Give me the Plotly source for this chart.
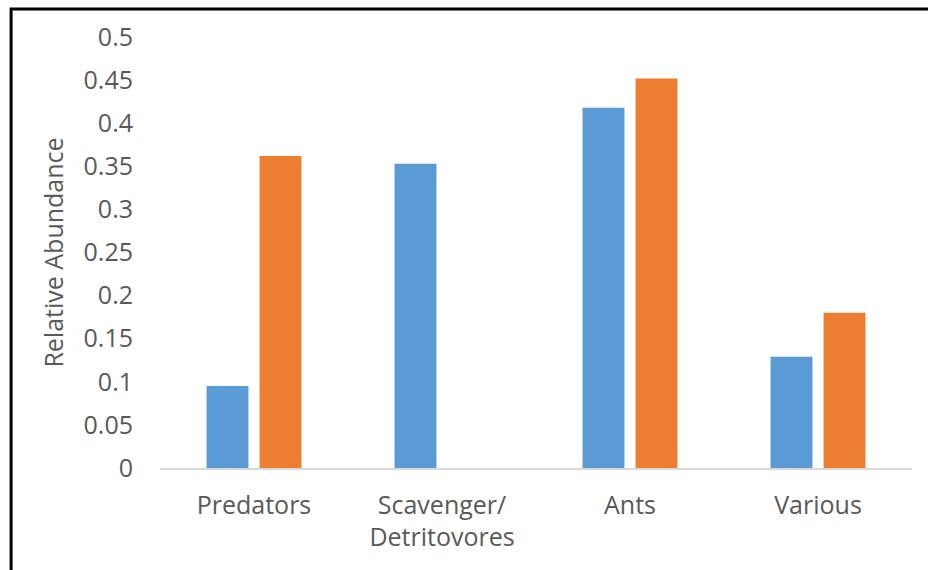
import plotly.graph_objects as go

# Relative abundance of feeding guilds in the two samples
categories = ["Predators", "Scavenger/<br>Detritovores", "Ants", "Various"]
series_a = [0.095, 0.353, 0.418, 0.129]
series_b = [0.362, 0.0, 0.452, 0.180]
y_ticks = [0, 0.05, 0.1, 0.15, 0.2, 0.25, 0.3, 0.35, 0.4, 0.45, 0.5]
y_tick_text = ["0", "0.05", "0.1", "0.15", "0.2", "0.25", "0.3", "0.35", "0.4", "0.45", "0.5"]

BLUE = "#5B9BD5"
ORANGE = "#ED7D31"
TEXT = "#595959"
FONT = "Open Sans"

fig = go.Figure()
fig.add_trace(go.Bar(x=categories, y=series_a, marker=dict(color=BLUE, line=dict(width=0))))
fig.add_trace(go.Bar(x=categories, y=series_b, marker=dict(color=ORANGE, line=dict(width=0))))

fig.update_layout(
    width=928,
    height=570,
    margin=dict(l=160, r=16, t=37, b=102),
    paper_bgcolor="white",
    plot_bgcolor="white",
    barmode="group",
    bargap=0.436,
    bargroupgap=0.21,
    showlegend=False,
    font=dict(family=FONT, size=25, color=TEXT),
    xaxis=dict(
        showline=True,
        linecolor="#D9D9D9",
        linewidth=1.5,
        showgrid=False,
        ticks="",
        tickfont=dict(family=FONT, size=25, color=TEXT),
        ticklabelstandoff=14,
    ),
    yaxis=dict(
        range=[0, 0.5],
        tickvals=y_ticks,
        ticktext=y_tick_text,
        showgrid=False,
        zeroline=False,
        showline=False,
        ticks="",
        ticklabelstandoff=26,
        tickfont=dict(family=FONT, size=25, color=TEXT),
        title=dict(text="Relative Abundance", font=dict(family=FONT, size=25, color=TEXT), standoff=12),
    ),
)

# Frame along the top and left edges; its right and bottom sides run off the page
fig.add_shape(type="rect", xref="paper", yref="paper", x0=-0.198, x1=1.2, y0=-0.4, y1=1.065,
              line=dict(color="black", width=3), fillcolor="rgba(0,0,0,0)", layer="below")

fig.write_html("out.html", config={"displayModeBar": False})
